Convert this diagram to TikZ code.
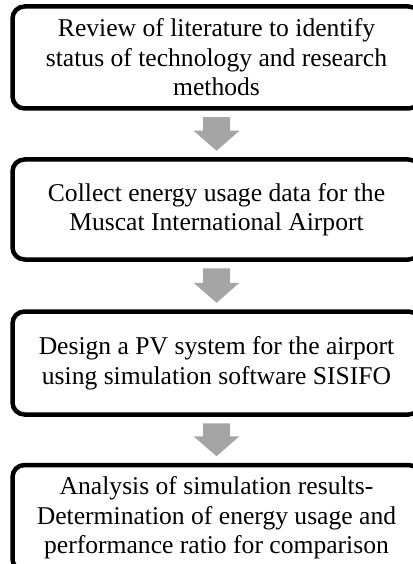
\documentclass[tikz,border=0pt]{standalone}
\usepackage{fontspec}
\setmainfont{Liberation Serif}
\usetikzlibrary{calc}
\definecolor{arrowgray}{HTML}{A5A5A5}
\tikzset{
  stepbox/.style={draw=black, line width=4.5pt, rounded corners=12pt,
    minimum width=408pt, minimum height=#1, inner sep=0pt,
    align=center, font=\fontsize{25.6}{29.5}\selectfont},
  flowarrow/.style={fill=arrowgray, draw=none},
}
\newcommand\flowarr[2]{%
  \fill[flowarrow] ($(#1.south)+(-13.5,6.5)$) -- ($(#1.south)+(13.5,6.5)$)
    -- ($(#2.north)+(13.5,-26.5)$) -- ($(#2.north)+(23,-26.5)$)
    -- ($(#2.north)+(0,-6.5)$) -- ($(#2.north)+(-23,-26.5)$)
    -- ($(#2.north)+(-13.5,-26.5)$) -- cycle;}
\begin{document}
\begin{tikzpicture}[x=1pt,y=-1pt]
\useasboundingbox (0,0) rectangle (412,564);
\node[stepbox=102pt] (b1) at (216.5,57.5) {Review of literature to identify\\status of technology and research\\methods};
\node[stepbox=100pt] (b2) at (216.5,209.5) {Collect energy usage data for the\\Muscat International Airport};
\node[stepbox=103pt] (b3) at (216.5,363) {Design a PV system for the airport\\using simulation software SISIFO};
\node[stepbox=106pt] (b4) at (216.5,518) {Analysis of simulation results-\\Determination of energy usage and\\performance ratio for comparison};
\flowarr{b1}{b2}
\flowarr{b2}{b3}
\flowarr{b3}{b4}
\end{tikzpicture}
\end{document}
